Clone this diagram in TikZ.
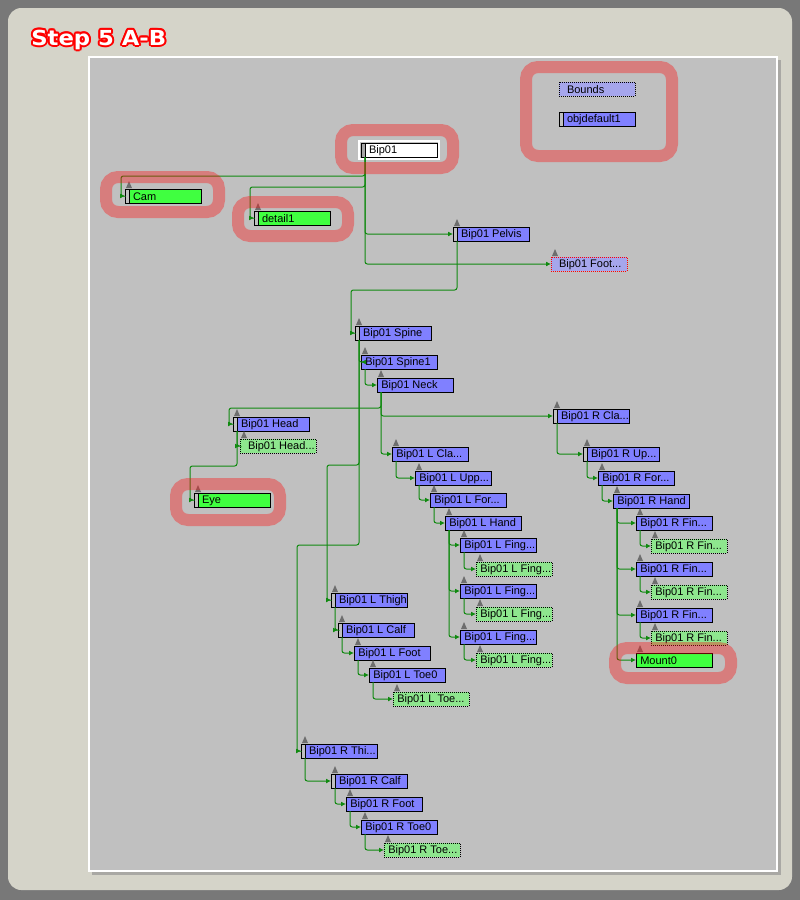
\documentclass[tikz,border=0pt]{standalone}
\usepackage{fontspec}
\usepackage{graphicx}
\usetikzlibrary{calc,arrows.meta}
\newfontfamily\boxfont{Liberation Sans}
\newfontfamily\ttlfont{DejaVu Sans}
\definecolor{frame}{HTML}{787878}
\definecolor{panel}{HTML}{D5D4C9}
\definecolor{canvas}{HTML}{C0C0C0}
\definecolor{boneblue}{HTML}{8080FF}
\definecolor{hatchblue}{HTML}{A6A6EC}
\definecolor{objgreen}{HTML}{40FF40}
\definecolor{nubgreen}{HTML}{8EE68E}
\definecolor{wire}{HTML}{108A10}
\definecolor{tricol}{HTML}{6E6E6E}
\definecolor{hlred}{HTML}{FF1010}
\tikzset{
  box/.style={draw=black, line width=0.75pt, rectangle, anchor=north west, minimum width=57pt, minimum height=10.5pt, inner sep=0pt, outer sep=0pt},
  bone/.style={box, fill=boneblue},
  obj/.style={box, fill=objgreen},
  nub/.style={box, fill=nubgreen, dash pattern=on 0.75pt off 0.75pt},
  hid/.style={box, fill=hatchblue, dash pattern=on 0.75pt off 0.75pt},
  txt/.style={anchor=west, inner sep=0pt, xshift=3pt, yshift=-0.3pt, font=\boxfont\fontsize{8.25}{9.9}\selectfont},
  btxt/.style={txt, xshift=2.8pt},
  link/.style={draw=wire, line width=0.75pt, rounded corners=1.8pt, -{Latex[length=3.6pt,width=3.6pt]}},
  tri/.style={fill=tricol},
  hl/.style={draw=hlred, draw opacity=0.38, line width=9pt, rounded corners=9pt},
  ttl/.style={anchor=base west, inner sep=0pt, font=\ttlfont\bfseries\fontsize{15.5}{18}\selectfont}
}
\begin{document}
\begin{tikzpicture}[x=0.75pt, y=-0.75pt]
  \useasboundingbox (0,0) rectangle (800,900);
  % frame and canvas
  \fill[frame] (0,0) rectangle (800,900);
  \fill[panel, rounded corners=10pt] (8,8) rectangle (792,890);
  \fill[black!45, opacity=0.6] (92,60) rectangle (781,875);
  \filldraw[fill=canvas, draw=white, line width=1.5pt] (89,57) rectangle (777,871);
  \foreach \a in {0,30,...,330}
    \node[ttl, text=red] (ttl\a) at ($(31,45)+(\a:2)$) {\scalebox{1.1}[1]{Step 5 A-B}};
  \node[ttl, text=white] (title) at (31,45) {\scalebox{1.1}[1]{Step 5 A-B}};

  % scene objects
  \node[hid, label={[btxt]west:Bounds}] (bounds) at (559,82) {};
  \node[bone, label={[btxt]west:objdefault1}] (objdef) at (559,112) {};
  \node[box, fill=white, label={[btxt]west:Bip01}] (bip) at (361,143) {};
  \node[obj, label={[btxt]west:Cam}] (cam) at (125,189) {};
  \node[obj, label={[btxt]west:detail1}] (det) at (254,211) {};
  \node[bone, label={[btxt]west:Bip01 Pelvis}] (pelvis) at (453,227) {};
  \node[hid, draw=red, label={[btxt]west:Bip01 Foot...}] (foot) at (551,257) {};
  \node[bone, label={[btxt]west:Bip01 Spine}] (spine) at (355,326) {};
  \node[bone, label={[txt]west:Bip01 Spine1}] (spine1) at (361,355) {};
  \node[bone, label={[txt]west:Bip01 Neck}] (neck) at (377,378) {};
  \node[bone, label={[btxt]west:Bip01 Head}] (head) at (233,417) {};
  \node[nub, label={[btxt]west:Bip01 Head...}] (headnub) at (240,439) {};
  \node[obj, label={[btxt]west:Eye}] (eye) at (194,493) {};
  % left arm
  \node[bone, label={[txt]west:Bip01 L Cla...}] (lcla) at (392,447) {};
  \node[bone, label={[txt]west:Bip01 L Upp...}] (lupp) at (415,471) {};
  \node[bone, label={[txt]west:Bip01 L For...}] (lfor) at (430,493) {};
  \node[bone, label={[txt]west:Bip01 L Hand}] (lhand) at (445,516) {};
  \node[bone, label={[txt]west:Bip01 L Fing...}] (lf1) at (460,538) {};
  \node[nub, label={[txt]west:Bip01 L Fing...}] (lf1n) at (476,562) {};
  \node[bone, label={[txt]west:Bip01 L Fing...}] (lf2) at (460,584) {};
  \node[nub, label={[txt]west:Bip01 L Fing...}] (lf2n) at (476,607) {};
  \node[bone, label={[txt]west:Bip01 L Fing...}] (lf3) at (460,630) {};
  \node[nub, label={[txt]west:Bip01 L Fing...}] (lf3n) at (476,653) {};
  % right arm
  \node[bone, label={[btxt]west:Bip01 R Cla...}] (rcla) at (553,409) {};
  \node[bone, label={[btxt]west:Bip01 R Up...}] (rup) at (583,447) {};
  \node[bone, label={[txt]west:Bip01 R For...}] (rfor) at (598,471) {};
  \node[bone, label={[txt]west:Bip01 R Hand}] (rhand) at (613,494) {};
  \node[bone, label={[txt]west:Bip01 R Fin...}] (rf1) at (636,516) {};
  \node[nub, label={[txt]west:Bip01 R Fin...}] (rf1n) at (651,539) {};
  \node[bone, label={[txt]west:Bip01 R Fin...}] (rf2) at (636,562) {};
  \node[nub, label={[txt]west:Bip01 R Fin...}] (rf2n) at (651,585) {};
  \node[bone, label={[txt]west:Bip01 R Fin...}] (rf3) at (636,608) {};
  \node[nub, label={[txt]west:Bip01 R Fin...}] (rf3n) at (651,631) {};
  \node[obj, label={[txt]west:Mount0}] (mount) at (636,653) {};
  % legs
  \node[bone, label={[btxt]west:Bip01 L Thigh}] (lthigh) at (331,593) {};
  \node[bone, label={[btxt]west:Bip01 L Calf}] (lcalf) at (338,623) {};
  \node[bone, label={[txt]west:Bip01 L Foot}] (lfoot) at (354,646) {};
  \node[bone, label={[txt]west:Bip01 L Toe0}] (ltoe) at (369,668) {};
  \node[nub, label={[txt]west:Bip01 L Toe...}] (ltoen) at (393,692) {};
  \node[bone, label={[btxt]west:Bip01 R Thi...}] (rthigh) at (301,744) {};
  \node[bone, label={[btxt]west:Bip01 R Calf}] (rcalf) at (331,774) {};
  \node[bone, label={[txt]west:Bip01 R Foot}] (rfoot) at (346,797) {};
  \node[bone, label={[txt]west:Bip01 R Toe0}] (rtoe) at (361,820) {};
  \node[nub, label={[txt]west:Bip01 R Toe...}] (rtoen) at (384,843) {};

  % bars at the left end of the boxes
  \fill[black!35] (bip.north west) rectangle ($(bip.south west)+(4,0)$);
  \draw[line width=0.75pt] (bip.north west) rectangle ($(bip.south west)+(4,0)$);
  \draw[white, line width=1.5pt] ($(bip.north west)+(-2,-2)$) rectangle ($(bip.south east)+(2,2)$);
  \foreach \n in {objdef,cam,det,pelvis,spine,head,eye,rcla,rup,lthigh,lcalf,rthigh,rcalf}
    \filldraw[fill=canvas, draw=black, line width=0.75pt] (\n.north west) rectangle ($(\n.south west)+(4,0)$);

  % links
  \foreach \p/\c in {bip/pelvis,bip/foot,spine/spine1,spine1/neck,neck/lcla,neck/rcla,head/headnub,
      lcla/lupp,lupp/lfor,lfor/lhand,lhand/lf1,lhand/lf2,lhand/lf3,lf1/lf1n,lf2/lf2n,lf3/lf3n,
      rcla/rup,rup/rfor,rfor/rhand,rhand/rf1,rhand/rf2,rhand/rf3,rhand/mount,rf1/rf1n,rf2/rf2n,rf3/rf3n,
      lthigh/lcalf,lcalf/lfoot,lfoot/ltoe,ltoe/ltoen,rthigh/rcalf,rcalf/rfoot,rfoot/rtoe,rtoe/rtoen}
    \draw[link] ($(\p.south west)+(4,0)$) |- (\c.west);
  \foreach \p/\c/\x/\y in {bip/cam/121/176,bip/det/250/187,pelvis/spine/351/290,spine/lthigh/327/465,
      spine/rthigh/297/545,neck/head/229/408,head/eye/190/466}
    \draw[link] ($(\p.south west)+(4,0)$) |- (\x,\y) |- (\c.west);

  % pivot markers
  \foreach \n in {cam,det,pelvis,foot,spine,spine1,neck,head,headnub,eye,lcla,lupp,lfor,lhand,
      lf1,lf1n,lf2,lf2n,lf3,lf3n,rcla,rup,rfor,rhand,rf1,rf1n,rf2,rf2n,rf3,rf3n,mount,
      lthigh,lcalf,lfoot,ltoe,ltoen,rthigh,rcalf,rfoot,rtoe,rtoen}
    \fill[tri] ($(\n.north west)+(1,-1)$) -- ($(\n.north west)+(4,-8)$) -- ($(\n.north west)+(7,-1)$) -- cycle;

  % highlights
  \draw[hl] (341,130) rectangle (453,168);
  \draw[hl] (106,177) rectangle (219,212);
  \draw[hl] (238,202) rectangle (348,236);
  \draw[hl] (526,67) rectangle (672,156);
  \draw[hl] (176,484) rectangle (280,520);
  \draw[hl] (615,648) rectangle (731,678);
\end{tikzpicture}
\end{document}
